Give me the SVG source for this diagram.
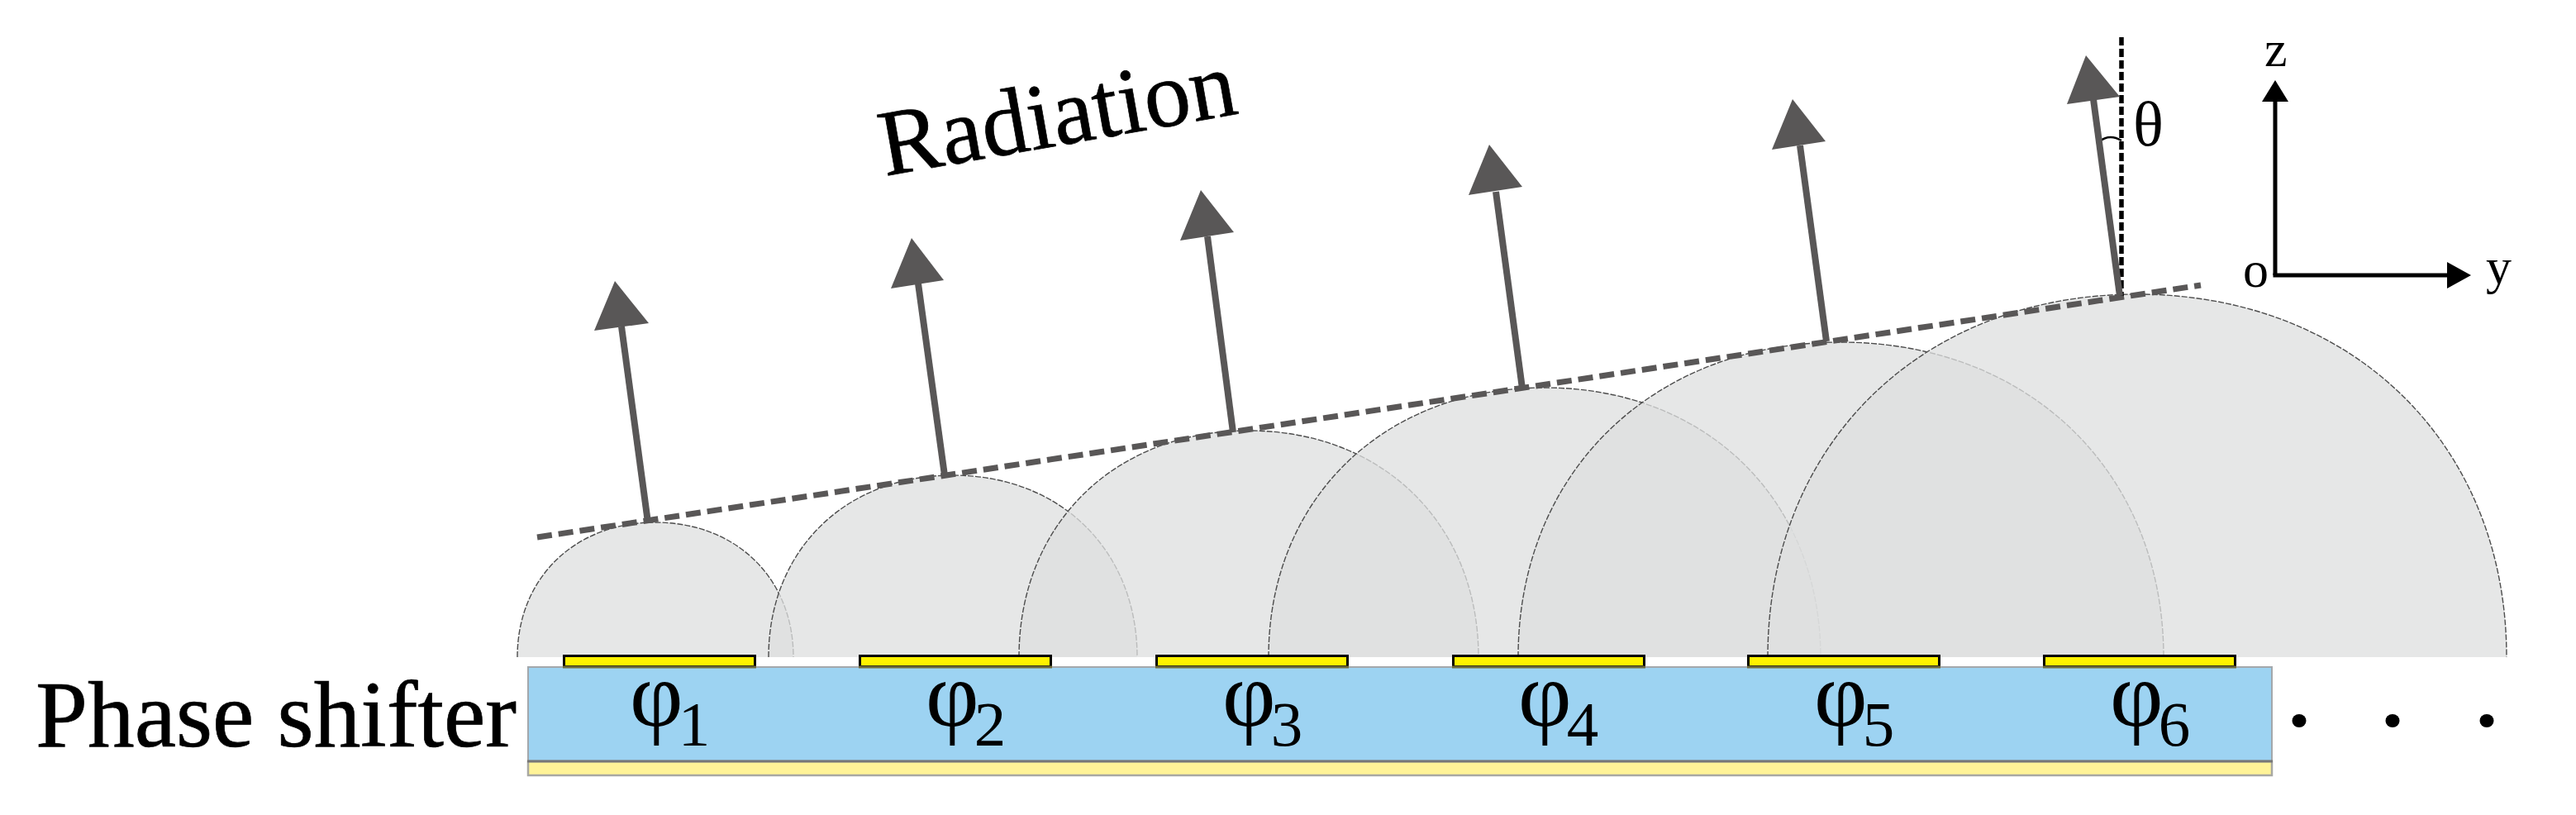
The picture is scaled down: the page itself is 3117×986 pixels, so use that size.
<svg xmlns="http://www.w3.org/2000/svg" width="3117" height="986" viewBox="0 0 3117 986">
<style>
text{font-family:"Liberation Serif","Times New Roman",serif;fill:#000}
.lobe{fill:#dedfdf;fill-opacity:.76;stroke:#4d4d4d;stroke-width:1.4;stroke-dasharray:7 2}
.pad{fill:#fff200;stroke:#000;stroke-width:3}
.padb{stroke:#6e6a3a;stroke-width:3}
.big{font-size:114px;stroke:#000;stroke-width:.7}
.phi{font-size:112px}
.sub{font-size:77px}
.ax{font-size:62px}
.shaft{stroke:#595757;stroke-width:8;fill:none}
.head{fill:#595757}
.axis{stroke:#000;stroke-width:5;fill:none}
</style>
<rect width="3117" height="986" fill="#fff"/>
<g id="lobes">
<path id="lobe1" class="lobe" d="M626 795C626 699.600 695.300 632 793 632C890.700 632 960 699.600 960 795"/>
<path id="lobe2" class="lobe" d="M930 795C930 666.300 1022.500 575 1153 575C1283.500 575 1376 666.300 1376 795"/>
<path id="lobe3" class="lobe" d="M1233 795C1233 634.700 1348.400 521 1511 521C1673.600 521 1789 634.700 1789 795"/>
<path id="lobe4" class="lobe" d="M1535 795C1535 604.300 1673.600 469 1869 469C2064.400 469 2203 604.300 2203 795"/>
<path id="lobe5" class="lobe" d="M1837 795C1837 572.100 1999.100 414 2227.500 414C2455.900 414 2618 572.100 2618 795"/>
<path id="lobe6" class="lobe" d="M2139 795C2139 538.200 2324.500 356 2586 356C2847.500 356 3033 538.200 3033 795"/>
</g>
<g id="substrate">
<rect x="639" y="807" width="2110" height="114" fill="#9dd3f2" stroke="#a3a8ac" stroke-width="2"/>
<rect x="639" y="921" width="2110" height="17" fill="#fff397" stroke="#a8a8a2" stroke-width="2.500"/>
<line x1="638" y1="921" x2="2750" y2="921" stroke="#777" stroke-width="3"/>
</g>
<g id="pads">
<g id="pad1"><rect class="pad" x="682.500" y="793.500" width="231" height="13"/><line class="padb" x1="681" y1="807" x2="915" y2="807"/></g>
<g id="pad2"><rect class="pad" x="1040.500" y="793.500" width="231" height="13"/><line class="padb" x1="1039" y1="807" x2="1273" y2="807"/></g>
<g id="pad3"><rect class="pad" x="1399.500" y="793.500" width="231" height="13"/><line class="padb" x1="1398" y1="807" x2="1632" y2="807"/></g>
<g id="pad4"><rect class="pad" x="1758.500" y="793.500" width="231" height="13"/><line class="padb" x1="1757" y1="807" x2="1991" y2="807"/></g>
<g id="pad5"><rect class="pad" x="2115.500" y="793.500" width="231" height="13"/><line class="padb" x1="2114" y1="807" x2="2348" y2="807"/></g>
<g id="pad6"><rect class="pad" x="2473.500" y="793.500" width="231" height="13"/><line class="padb" x1="2472" y1="807" x2="2706" y2="807"/></g>
</g>
<g id="labels">
<text class="big" x="43" y="903" textLength="582" lengthAdjust="spacingAndGlyphs">Phase shifter</text>
<text class="big" transform="translate(1071 213) rotate(-10)" textLength="436" lengthAdjust="spacingAndGlyphs">Radiation</text>
<text class="phi" x="762" y="878">φ<tspan class="sub" dx="-6" dy="24">1</tspan></text>
<text class="phi" x="1120" y="878">φ<tspan class="sub" dx="-6" dy="24">2</tspan></text>
<text class="phi" x="1479" y="878">φ<tspan class="sub" dx="-6" dy="24">3</tspan></text>
<text class="phi" x="1837" y="878">φ<tspan class="sub" dx="-6" dy="24">4</tspan></text>
<text class="phi" x="2195" y="878">φ<tspan class="sub" dx="-6" dy="24">5</tspan></text>
<text class="phi" x="2553" y="878">φ<tspan class="sub" dx="-6" dy="24">6</tspan></text>
<text class="sub" x="2581" y="176">θ</text>
<text class="ax" x="2740" y="80">z</text>
<text class="ax" x="3008" y="343">y</text>
<text class="ax" x="2714" y="347">o</text>
</g>
<g id="dots" fill="#000">
<ellipse cx="2782" cy="872" rx="8.500" ry="8"/><ellipse cx="2895" cy="872" rx="8.500" ry="8"/><ellipse cx="3009" cy="872" rx="8.500" ry="8"/>
</g>
<g id="connectors">
<line x1="650" y1="650" x2="2663" y2="345" stroke="#595757" stroke-width="7" stroke-dasharray="18 8"/>
<line x1="2567" y1="45" x2="2567" y2="358" stroke="#000" stroke-width="5.500" stroke-dasharray="10 4"/>
<path d="M2539 172Q2552 161 2567 170" fill="none" stroke="#000" stroke-width="2.500"/>
<line class="shaft" x1="784" y1="632" x2="752" y2="395"/><polygon class="head" points="744,340 719,400 785,391"/>
<line class="shaft" x1="1143" y1="575" x2="1111" y2="343"/><polygon class="head" points="1103,288 1078,349 1142,339"/>
<line class="shaft" x1="1492" y1="523" x2="1461" y2="286"/><polygon class="head" points="1453,230 1428,291 1493,281"/>
<line class="shaft" x1="1842" y1="470" x2="1810" y2="232"/><polygon class="head" points="1802,175 1777,236 1842,226"/>
<line class="shaft" x1="2210" y1="413" x2="2178" y2="176"/><polygon class="head" points="2169,120 2144,181 2209,171"/>
<line class="shaft" x1="2565" y1="358" x2="2533" y2="120"/><polygon class="head" points="2524,67 2501,126 2565,117"/>
<line class="axis" x1="2753" y1="333" x2="2753" y2="120"/><polygon points="2753,97 2737,123 2769,123" fill="#000"/>
<line class="axis" x1="2750.500" y1="333" x2="2965" y2="333"/><polygon points="2990,333 2961,317 2961,349" fill="#000"/>
</g>
</svg>
